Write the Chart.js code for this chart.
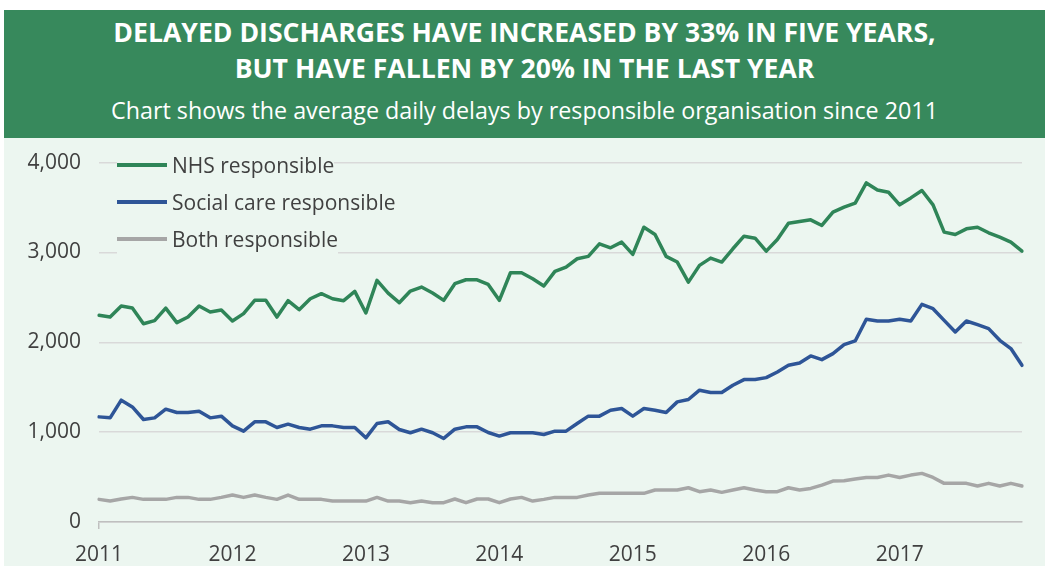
<!DOCTYPE html>
<html>
<head>
<meta charset="utf-8">
<script src="https://cdn.jsdelivr.net/npm/chart.js@4.4.1/dist/chart.umd.min.js"></script>
<style>
  body { margin: 0; width: 1049px; height: 574px; background: #ffffff; position: relative; overflow: hidden; font-family: 'Open Sans', sans-serif; }
  #header { position: absolute; left: 4px; top: 10px; width: 1041px; height: 128px; background: #37895c; color: #ffffff; text-align: center; }
  #header .title { font-weight: 700; font-size: 26.6px; line-height: 36px; padding-top: 4px; }
  #header .sub { font-size: 23.3px; line-height: 32px; margin-top: 8px; }
  #plotbg { position: absolute; left: 4px; top: 138px; width: 1041px; height: 428px; background: #ecf6f0; }
  #wrap { position: absolute; left: 0; top: 132px; width: 1049px; height: 442px; }
  #legend { position: absolute; left: 117px; top: 150px; }
  #legend .item { display: flex; align-items: center; height: 30px; margin-bottom: 7px; width: max-content; background: #ecf6f0; font-size: 21px; color: #404040; }
  #legend .swatch { width: 50px; height: 3.5px; margin-right: 5px; }
</style>
</head>
<body>
<div id="header">
  <div class="title">DELAYED DISCHARGES HAVE INCREASED BY 33% IN FIVE YEARS,<br>BUT HAVE FALLEN BY 20% IN THE LAST YEAR</div>
  <div class="sub">Chart shows the average daily delays by responsible organisation since 2011</div>
</div>
<div id="plotbg"></div>
<div id="wrap"><canvas id="chart"></canvas></div>
<div id="legend"></div>

<script>
/* ------------------
  data (monthly, Jan 2011 - Dec 2017)
-------------------*/
var years = ['2011', '2012', '2013', '2014', '2015', '2016', '2017'];
var monthNames = ['Jan', 'Feb', 'Mar', 'Apr', 'May', 'Jun', 'Jul', 'Aug', 'Sep', 'Oct', 'Nov', 'Dec'];

var nhs = [
  2300, 2281, 2404, 2381, 2207, 2241, 2381, 2219, 2281, 2404, 2337, 2359,
  2237, 2319, 2467, 2467, 2281, 2463, 2363, 2485, 2541, 2485, 2463, 2567,
  2326, 2689, 2548, 2441, 2570, 2615, 2548, 2467, 2652, 2696, 2696, 2644,
  2467, 2774, 2774, 2707, 2626, 2789, 2837, 2930, 2956, 3096, 3052, 3115,
  2978, 3281, 3200, 2956, 2893, 2670, 2856, 2937, 2893, 3041, 3181, 3159,
  3015, 3144, 3326, 3344, 3363, 3300, 3448, 3504, 3548, 3774, 3696, 3670,
  3530, 3607, 3689, 3530, 3226, 3200, 3263, 3281, 3219, 3170, 3115, 3015
];
var socialCare = [
  1170, 1159, 1356, 1281, 1141, 1159, 1256, 1219, 1219, 1233, 1159, 1178,
  1070, 1011, 1115, 1115, 1052, 1089, 1052, 1033, 1070, 1070, 1052, 1052,
  937, 1096, 1115, 1030, 993, 1033, 993, 930, 1033, 1059, 1059, 996,
  956, 993, 993, 993, 974, 1011, 1011, 1096, 1178, 1178, 1244, 1263,
  1178, 1263, 1244, 1219, 1337, 1363, 1467, 1441, 1441, 1522, 1585, 1585,
  1607, 1670, 1744, 1770, 1848, 1807, 1874, 1974, 2015, 2256, 2237, 2237,
  2256, 2237, 2422, 2374, 2244, 2115, 2237, 2196, 2152, 2022, 1930, 1744
];
var both = [
  252, 233, 256, 274, 252, 252, 252, 274, 274, 252, 252, 274,
  300, 274, 300, 274, 252, 300, 252, 252, 252, 233, 233, 233,
  233, 274, 233, 233, 215, 233, 215, 215, 256, 215, 256, 256,
  215, 256, 274, 233, 252, 274, 274, 274, 300, 319, 319, 319,
  319, 319, 356, 356, 356, 381, 337, 356, 330, 356, 381, 356,
  337, 337, 381, 356, 374, 411, 456, 460, 478, 496, 496, 522,
  496, 522, 541, 496, 430, 430, 430, 400, 430, 400, 430, 400
];
var yTicks = [0, 1000, 2000, 3000, 4000];

var seriesNames = ['NHS responsible', 'Social care responsible', 'Both responsible'];
var seriesColors = ['#2f8558', '#2e5597', '#a6a6a6'];

// month labels for the category axis
var months = [];
years.forEach(function (y) {
  monthNames.forEach(function (m) { months.push(m + ' ' + y); });
});

function numberWithCommas(x) {
  return x.toString().replace(/\B(?=(\d{3})+(?!\d))/g, ",");
}

function lineSet(i, values) {
  return {
    label: seriesNames[i],
    data: values,
    borderColor: seriesColors[i],
    borderWidth: 3.5,
    borderJoinStyle: 'round',
    borderCapStyle: 'round',
    pointRadius: 0,
    tension: 0,
    fill: false
  };
}

/* ------------------
  line chart
-------------------*/
var chart = new Chart(document.getElementById("chart"), {
  type: 'line',
  data: {
    labels: months,
    datasets: [lineSet(2, both), lineSet(1, socialCare), lineSet(0, nhs)]
  },
  options: {
    responsive: true,
    maintainAspectRatio: false,
    animation: false,
    layout: { padding: { top: 24, right: 27, left: 0, bottom: 0 } },
    plugins: { legend: { display: false }, tooltip: { enabled: false } },
    scales: {
      x: {
        type: 'category',
        offset: false,
        afterFit: function (scale) { scale.height = 52; },
        grid: {
          drawOnChartArea: false,
          drawTicks: true,
          tickLength: 7,
          lineWidth: 1.5,
          tickColor: function (ctx) { return ctx.index % 12 === 0 ? '#bfbfbf' : 'rgba(0,0,0,0)'; }
        },
        border: { display: true, color: '#bfbfbf', width: 1.5 },
        ticks: {
          autoSkip: false,
          maxRotation: 0,
          padding: 13,
          color: '#404040',
          font: { family: 'Open Sans', size: 21 },
          callback: function (v, i) { return i % 12 === 0 ? years[i / 12] : null; }
        }
      },
      y: {
        min: 0,
        max: 4000,
        afterFit: function (scale) { scale.width = 99; },
        afterBuildTicks: function (scale) { scale.ticks = yTicks.map(function (v) { return { value: v }; }); },
        grid: { color: '#d9d9d9', lineWidth: 1.5, drawTicks: false },
        border: { display: false },
        ticks: {
          padding: 18,
          color: '#404040',
          font: { family: 'Open Sans', size: 21 },
          callback: function (v) { return numberWithCommas(v); }
        }
      }
    }
  }
});

// legend drawn as html, top-left inside the plot
var legend = document.getElementById("legend");
seriesNames.forEach(function (name, i) {
  legend.innerHTML += '<div class="item"><span class="swatch" style="background:' + seriesColors[i] + '"></span>' + name + '</div>';
});
</script>
</body>
</html>
